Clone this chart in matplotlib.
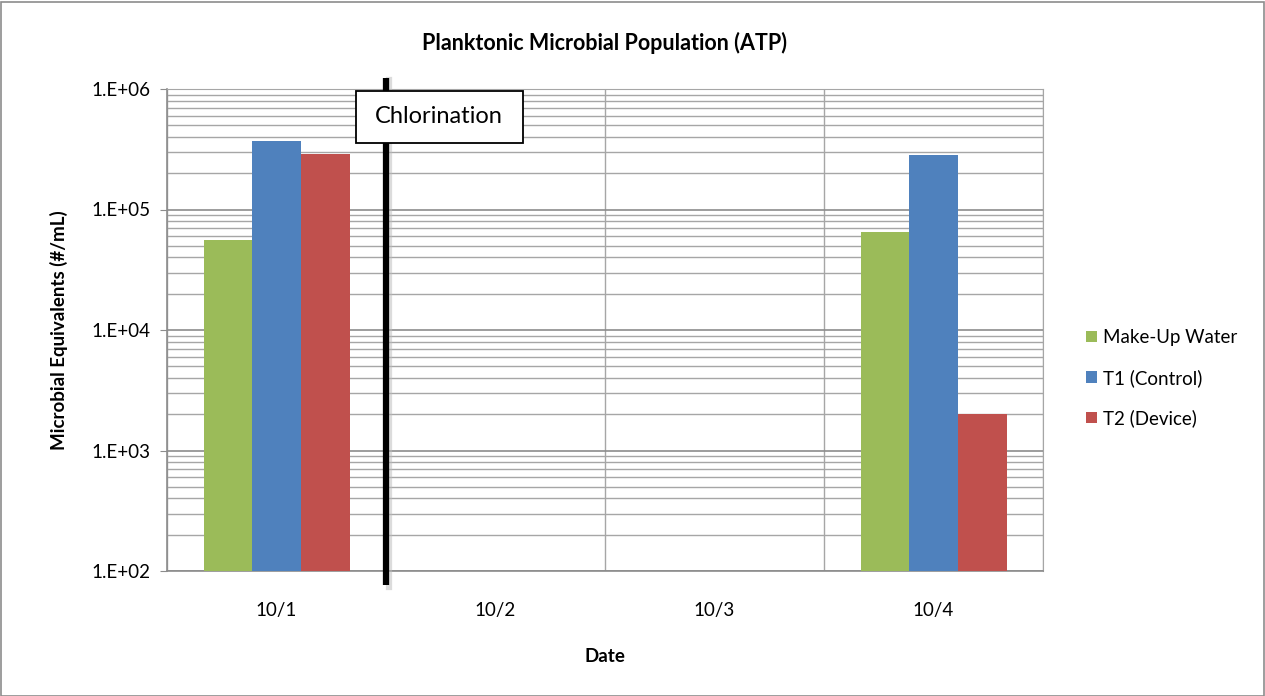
import matplotlib
matplotlib.use("Agg")
import matplotlib.pyplot as plt
import numpy as np
from matplotlib.patches import Rectangle
from matplotlib.ticker import LogLocator, NullFormatter, FixedLocator

plt.rcParams['font.family'] = ['Lato', 'DejaVu Sans']

categories = ["10/1", "10/2", "10/3", "10/4"]
series_names = ["Make-Up Water", "T1 (Control)", "T2 (Device)"]
makeup_water = [5.6e4, np.nan, np.nan, 6.5e4]
t1_control = [3.7e5, np.nan, np.nan, 2.85e5]
t2_device = [2.9e5, np.nan, np.nan, 2.0e3]
colors = ["#9BBB59", "#4F81BD", "#C0504D"]
ytick_vals = [1e2, 1e3, 1e4, 1e5, 1e6]
ytick_labels = ["1.E+02", "1.E+03", "1.E+04", "1.E+05", "1.E+06"]

W, H = 1265, 696
fig = plt.figure(figsize=(W / 100, H / 100), dpi=100)
ax = fig.add_axes([167 / W, 1 - 571 / H, (1043 - 167) / W, (571 - 89) / H])

x = np.arange(len(categories))
bw = 1 / 4.5
series = [makeup_water, t1_control, t2_device]
for i, (vals, c, name) in enumerate(zip(series, colors, series_names)):
    ax.bar(x + (i - 1) * bw, vals, width=bw, color=c, label=name, zorder=3, log=True)

ax.set_yscale('log')
ax.set_ylim(1e2, 1e6)
ax.set_xlim(-0.5, len(categories) - 0.5)

ax.yaxis.set_major_locator(FixedLocator(ytick_vals))
ax.set_yticklabels(ytick_labels)
ax.yaxis.set_minor_locator(LogLocator(base=10, subs=np.arange(2, 10)))
ax.yaxis.set_minor_formatter(NullFormatter())
ax.grid(True, which='major', axis='y', color='#8C8C8C', linewidth=1.2, zorder=0)
ax.grid(True, which='minor', axis='y', color='#A6A6A6', linewidth=1.0, zorder=0)

ax.set_xticks(x)
ax.set_xticklabels(categories)
ax.xaxis.set_minor_locator(FixedLocator(np.arange(-0.5, len(categories), 1.0)))
ax.grid(True, which='minor', axis='x', color='#A6A6A6', linewidth=1.0, zorder=0)
ax.tick_params(axis='x', which='both', length=0, pad=22, labelsize=13.5)
ax.tick_params(axis='y', which='major', length=5, direction='out', color='#8C8C8C', pad=7, labelsize=13.5)
ax.tick_params(axis='y', which='minor', length=0)

for s in ['top', 'right']:
    ax.spines[s].set_color('#A6A6A6')
for s in ['left', 'bottom']:
    ax.spines[s].set_color('#8C8C8C')
    ax.spines[s].set_linewidth(1.2)

ax.set_title("Planktonic Microbial Population (ATP)", fontsize=15.5, fontweight='bold', pad=28)
ax.set_xlabel("Date", fontsize=13.5, fontweight='bold', labelpad=21)
ax.set_ylabel("Microbial Equivalents (#/mL)", fontsize=13.5, fontweight='bold', labelpad=17)

# Chlorination marker line with shadow
tr = ax.get_xaxis_transform()
ax.plot([0.513, 0.513], [-0.033, 1.019], transform=tr, color='#BBBBBB', linewidth=4.5,
        clip_on=False, zorder=4, alpha=0.5)
ax.plot([0.5, 0.5], [-0.029, 1.023], transform=tr, color='black', linewidth=4.5,
        clip_on=False, zorder=5, solid_capstyle='butt')
box = Rectangle((0.2155, 0.888), 0.1904, 0.108, transform=ax.transAxes, facecolor='white',
                edgecolor='black', linewidth=1.3, zorder=6, clip_on=False)
ax.add_patch(box)
ax.text(0.2155 + 0.1904 / 2, 0.888 + 0.108 / 2, "Chlorination", transform=ax.transAxes,
        ha='center', va='center', fontsize=17, zorder=7)

leg = ax.legend(loc='center left', bbox_to_anchor=(1.041, 0.40), frameon=False, fontsize=13.5,
                borderaxespad=0, handlelength=0.55, handleheight=0.55, handletextpad=0.35,
                labelspacing=1.2)

fig.patches.append(Rectangle((0.5 / W, 0.5 / H), 1 - 2 / W, 1 - 2 / H, transform=fig.transFigure,
                             fill=False, edgecolor='#8C8C8C', linewidth=1.2))

fig.savefig("out.png", dpi=100)
